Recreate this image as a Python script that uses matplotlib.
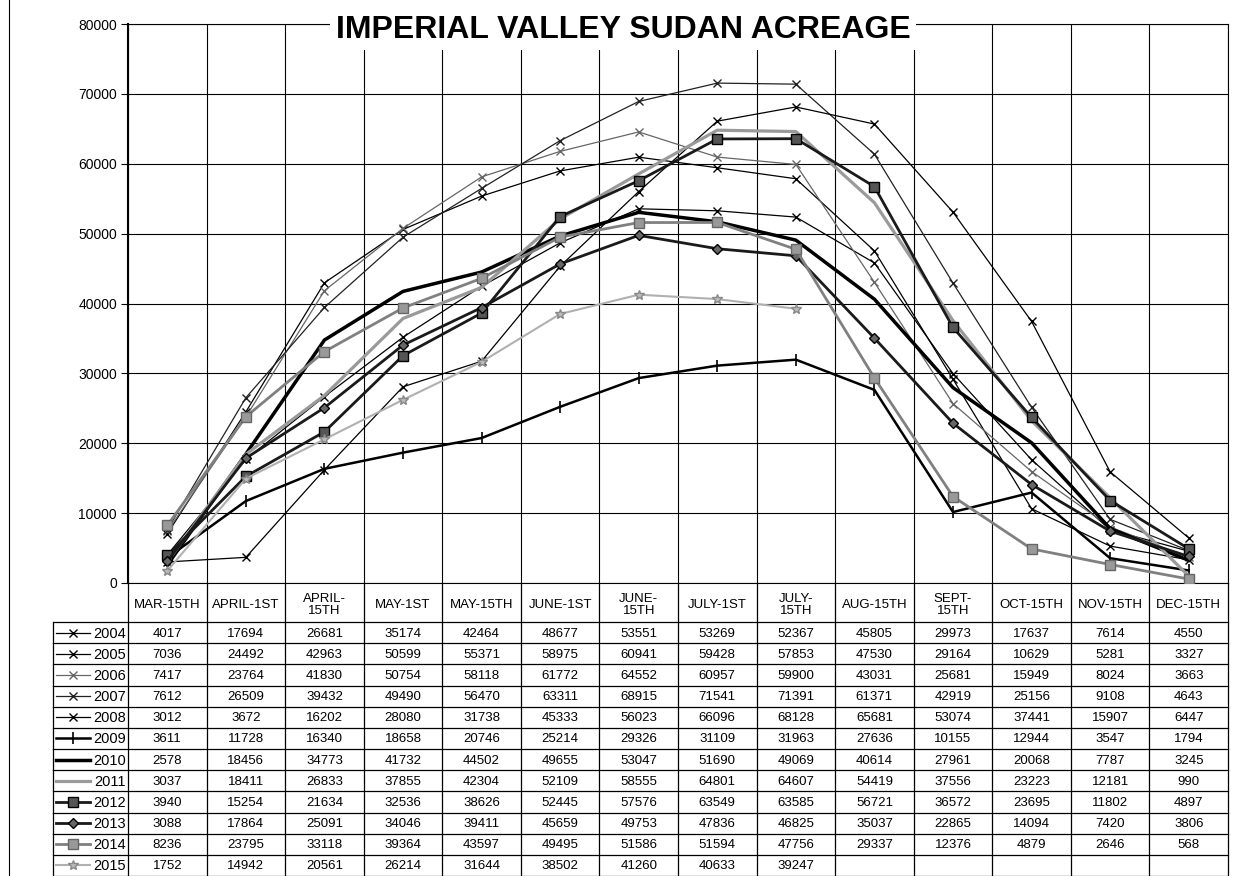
import numpy as np
import matplotlib
matplotlib.use("Agg")
import matplotlib.pyplot as plt
from matplotlib.lines import Line2D

plt.rcParams['font.family'] = ['Liberation Sans', 'DejaVu Sans']

title = "IMPERIAL VALLEY SUDAN ACREAGE"

categories = ['MAR-15TH', 'APRIL-1ST', 'APRIL-\n15TH', 'MAY-1ST', 'MAY-15TH',
              'JUNE-1ST', 'JUNE-\n15TH', 'JULY-1ST', 'JULY-\n15TH', 'AUG-15TH',
              'SEPT-\n15TH', 'OCT-15TH', 'NOV-15TH', 'DEC-15TH']

years = ['2004', '2005', '2006', '2007', '2008', '2009',
         '2010', '2011', '2012', '2013', '2014', '2015']

acres_2004 = [4017, 17694, 26681, 35174, 42464, 48677, 53551, 53269, 52367, 45805, 29973, 17637, 7614, 4550]
acres_2005 = [7036, 24492, 42963, 50599, 55371, 58975, 60941, 59428, 57853, 47530, 29164, 10629, 5281, 3327]
acres_2006 = [7417, 23764, 41830, 50754, 58118, 61772, 64552, 60957, 59900, 43031, 25681, 15949, 8024, 3663]
acres_2007 = [7612, 26509, 39432, 49490, 56470, 63311, 68915, 71541, 71391, 61371, 42919, 25156, 9108, 4643]
acres_2008 = [3012, 3672, 16202, 28080, 31738, 45333, 56023, 66096, 68128, 65681, 53074, 37441, 15907, 6447]
acres_2009 = [3611, 11728, 16340, 18658, 20746, 25214, 29326, 31109, 31963, 27636, 10155, 12944, 3547, 1794]
acres_2010 = [2578, 18456, 34773, 41732, 44502, 49655, 53047, 51690, 49069, 40614, 27961, 20068, 7787, 3245]
acres_2011 = [3037, 18411, 26833, 37855, 42304, 52109, 58555, 64801, 64607, 54419, 37556, 23223, 12181, 990]
acres_2012 = [3940, 15254, 21634, 32536, 38626, 52445, 57576, 63549, 63585, 56721, 36572, 23695, 11802, 4897]
acres_2013 = [3088, 17864, 25091, 34046, 39411, 45659, 49753, 47836, 46825, 35037, 22865, 14094, 7420, 3806]
acres_2014 = [8236, 23795, 33118, 39364, 43597, 49495, 51586, 51594, 47756, 29337, 12376, 4879, 2646, 568]
acres_2015 = [1752, 14942, 20561, 26214, 31644, 38502, 41260, 40633, 39247]

series = [acres_2004, acres_2005, acres_2006, acres_2007, acres_2008, acres_2009,
          acres_2010, acres_2011, acres_2012, acres_2013, acres_2014, acres_2015]

styles = {
  '2004': dict(color='black', lw=0.9, marker='x', ms=6),
  '2005': dict(color='black', lw=0.9, marker='x', ms=6),
  '2006': dict(color='#666666', lw=0.9, marker='x', ms=6),
  '2007': dict(color='#222222', lw=0.9, marker='x', ms=6),
  '2008': dict(color='black', lw=0.9, marker='x', ms=6),
  '2009': dict(color='black', lw=1.8, marker='|', ms=8, mew=1.2),
  '2010': dict(color='black', lw=2.5),
  '2011': dict(color='#9a9a9a', lw=2.3),
  '2012': dict(color='#1a1a1a', lw=2.0, marker='s', ms=7, mfc='#555555', mec='black'),
  '2013': dict(color='#1a1a1a', lw=2.0, marker='D', ms=5, mfc='#666666', mec='black'),
  '2014': dict(color='#808080', lw=2.0, marker='s', ms=7, mfc='#999999', mec='#666666'),
  '2015': dict(color='#b0b0b0', lw=1.5, marker='*', ms=7, mfc='#bbbbbb', mec='#888888'),
}

W, H = 1235, 876
fig = plt.figure(figsize=(W / 100, H / 100), dpi=100)


def px_axes(x0, y0, x1, y1):
  return fig.add_axes([x0 / W, 1 - y1 / H, (x1 - x0) / W, (y1 - y0) / H])


# chart area
ax = px_axes(128, 24, 1228, 583)
x = np.arange(len(categories))
for year, vals in zip(years, series):
  ax.plot(x[:len(vals)], vals, **styles[year], zorder=3)

ax.set_xlim(-0.5, len(categories) - 0.5)
ax.set_ylim(0, 80000)
ax.set_yticks(range(0, 80001, 10000))
ax.set_xticks(np.arange(-0.5, len(categories), 1))
ax.tick_params(axis='x', length=0, labelbottom=False)
ax.tick_params(axis='y', length=5, width=0.8, labelsize=10, pad=3)
ax.grid(True, color='black', lw=0.8)
for side in ['top', 'right', 'bottom']:
  ax.spines[side].set_linewidth(0.8)
ax.spines['left'].set_linewidth(1.5)

fig.text(623 / W, 1 - 30 / H, title, ha='center', va='center', fontsize=23,
         fontweight='bold', zorder=10,
         bbox=dict(facecolor='white', edgecolor='none', pad=4))

# page edge line on the left
fig.add_artist(Line2D([9 / W, 9 / W], [0, 1], transform=fig.transFigure,
                      color='black', lw=0.8))

# data table below the chart
tab = px_axes(53, 583, 1228, 876)
col_w = 1100 / len(categories)
lcol = (128 - 53) / col_w
left = -0.5 - lcol
right = len(categories) - 0.5
tab.set_xlim(left, right)
tab.set_ylim(293, 0)
tab.axis('off')

head_h = 39
row_h = (293 - head_h) / len(years)

for k in range(len(categories) + 1):
  tab.plot([k - 0.5, k - 0.5], [0, 293], color='black', lw=0.9, clip_on=False)
tab.plot([left, left], [head_h, 293], color='black', lw=0.9, clip_on=False)
for r in range(len(years) + 1):
  y = head_h + r * row_h
  tab.plot([left, right], [y, y], color='black', lw=0.9, clip_on=False)

for i, cat in enumerate(categories):
  tab.text(i, head_h / 2 + 2, cat, ha='center', va='center', fontsize=9.5,
           linespacing=1.0)

for r, (year, vals) in enumerate(zip(years, series)):
  yc = head_h + (r + 0.5) * row_h
  for i, v in enumerate(vals):
    tab.text(i, yc + 1, str(v), ha='center', va='center', fontsize=9.5)
  sx0 = left + 0.04
  sx1 = left + 0.47
  tab.plot([sx0, (sx0 + sx1) / 2, sx1], [yc, yc, yc], markevery=[1],
           clip_on=False, **styles[year])
  tab.text(-0.5 - 0.03, yc + 1, year, ha='right', va='center', fontsize=10.5)

fig.savefig("out.png", dpi=100)
